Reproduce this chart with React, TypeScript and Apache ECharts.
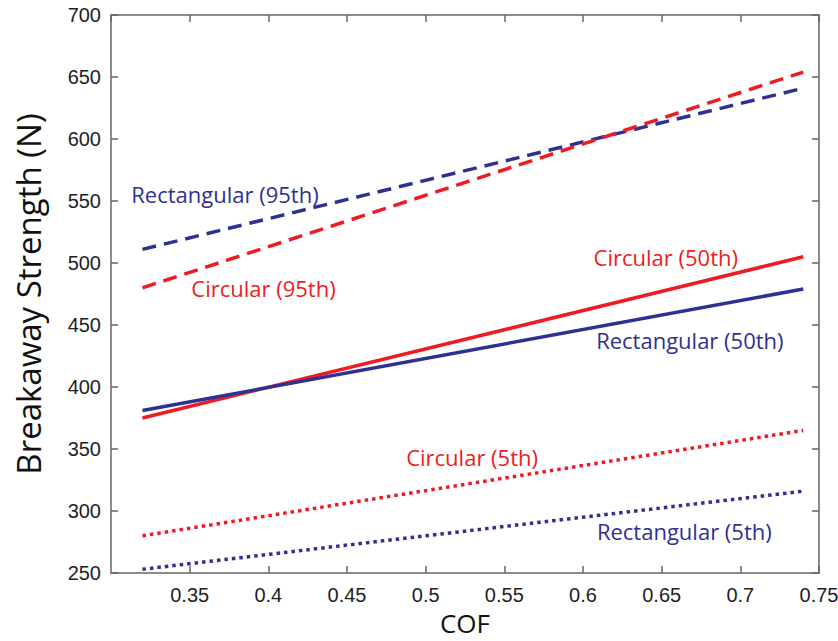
import React, { useEffect, useRef } from "react";
import * as echarts from "echarts";

const cofRange = [0.32, 0.74];
const rect95 = [511, 641];
const circ95 = [480, 654];
const circ50 = [375, 505];
const rect50 = [381, 479];
const circ5 = [280, 365];
const rect5 = [253, 316];

const labelNames = [
  "Rectangular (95th)",
  "Circular (95th)",
  "Circular (50th)",
  "Rectangular (50th)",
  "Circular (5th)",
  "Rectangular (5th)",
];
const labelX = [0.3724, 0.3969, 0.6526, 0.6679, 0.5295, 0.6644];
const labelY = [556, 480, 505, 438, 343.4, 284];

const BLUE = "#2e3192";
const RED = "#ed1c24";

export default function App() {
  const ref = useRef<HTMLDivElement>(null);
  useEffect(() => {
    const chart = echarts.init(ref.current!, null, { renderer: "svg" });
    const mk = (
      name: string,
      vals: number[],
      color: string,
      type: any,
      li: number
    ) => ({
      name,
      type: "line",
      showSymbol: false,
      symbol: "none",
      data: cofRange.map((x, i) => [x, vals[i]]),
      lineStyle: { color, width: 3.5, type, cap: "butt" },
      markPoint: {
        symbol: "circle",
        symbolSize: 0,
        silent: true,
        label: {
          show: true,
          position: "inside",
          formatter: labelNames[li],
          color,
          fontFamily: "Open Sans",
          fontSize: 22,
        },
        data: [{ coord: [labelX[li], labelY[li]] }],
      },
    });
    const axisCommon = {
      axisLine: { show: true, lineStyle: { color: "#666", width: 1.5 } },
      axisTick: { show: true, inside: true, length: 7, lineStyle: { color: "#666", width: 1.5 } },
      splitLine: { show: false },
    };
    chart.setOption({
      animation: false,
      backgroundColor: "#fff",
      grid: {
        left: 111,
        right: 19,
        top: 15,
        bottom: 68,
        containLabel: false,
        outerBoundsMode: "none",
      },
      xAxis: [
        {
          type: "value",
          min: 0.3,
          max: 0.75,
          interval: 0.05,
          name: "COF",
          nameLocation: "middle",
          nameGap: 31,
          nameTextStyle: { fontFamily: "Open Sans", fontSize: 26, color: "#111" },
          ...axisCommon,
          axisLabel: {
            fontFamily: "Liberation Sans",
            fontSize: 20,
            color: "#222",
            margin: 12,
            showMinLabel: false,
            formatter: (v: number) => String(parseFloat(v.toFixed(2))),
          },
        },
        {
          type: "value",
          position: "top",
          min: 0.3,
          max: 0.75,
          interval: 0.05,
          ...axisCommon,
          axisLabel: { show: false },
        },
      ],
      yAxis: [
        {
          type: "value",
          min: 250,
          max: 700,
          interval: 50,
          name: "Breakaway Strength (N)",
          nameLocation: "middle",
          nameGap: 66,
          nameTextStyle: { fontFamily: "Open Sans", fontSize: 33, color: "#111" },
          ...axisCommon,
          axisLabel: { fontFamily: "Liberation Sans", fontSize: 20, color: "#222", margin: 10 },
        },
        {
          type: "value",
          position: "right",
          min: 250,
          max: 700,
          interval: 50,
          ...axisCommon,
          axisLabel: { show: false },
        },
      ],
      series: [
        mk("Rectangular (95th)", rect95, BLUE, [14, 8], 0),
        mk("Circular (95th)", circ95, RED, [14, 8], 1),
        mk("Circular (50th)", circ50, RED, "solid", 2),
        mk("Rectangular (50th)", rect50, BLUE, "solid", 3),
        mk("Circular (5th)", circ5, RED, [3.5, 4], 4),
        mk("Rectangular (5th)", rect5, BLUE, [3.5, 4], 5),
      ],
    });
    return () => chart.dispose();
  }, []);
  return (
    <div
      ref={ref}
      style={{ position: "fixed", left: 0, top: 0, width: 838, height: 641 }}
    />
  );
}
